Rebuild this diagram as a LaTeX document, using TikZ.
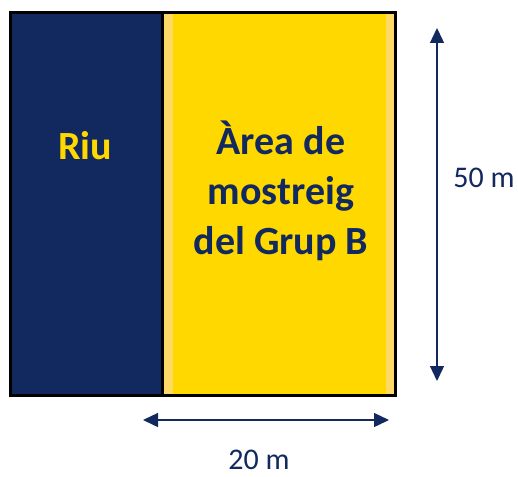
\documentclass[tikz,border=0pt]{standalone}
\usepackage{fontspec}
\setmainfont{Carlito}
\usetikzlibrary{arrows.meta}
\definecolor{navy}{HTML}{12295F}
\definecolor{gold}{HTML}{FFD800}
\definecolor{paleg}{HTML}{FFD966}
\tikzset{
  dim/.style={draw=navy, line width=1.4pt, {Triangle[length=15pt,width=14pt]}-{Triangle[length=15pt,width=14pt]}},
  lbl/.style={font=\fontsize{30}{36}\selectfont, text=navy, inner sep=0pt},
  big/.style={font=\fontsize{40}{50}\selectfont\bfseries, inner sep=0pt, align=center}
}
\begin{document}
\begin{tikzpicture}[x=1pt,y=-1pt]
\useasboundingbox (0,0) rectangle (518,476);
% fills
\fill[navy] (10,12) rectangle (162,396);
\fill[gold] (162,12) rectangle (396,396);
\fill[paleg] (164,12) rectangle (173,396);
\fill[paleg] (386,12) rectangle (395,396);
% outline
\draw[black, line width=3pt] (10.5,12.5) rectangle (395.5,395.5);
\draw[black, line width=3pt] (162,12.5) -- (162,395.5);
% texts
\node[big, text=gold] (riu) at (85,146) {Riu};
\node[big, text=navy] (area) at (281,191) {Àrea de\\mostreig\\del Grup B};
\node[lbl] (h) at (484,178) {50 m};
\node[lbl] (w) at (259,460) {20 m};
% dimension arrows
\coordinate (w1) at (143,420);
\coordinate (w2) at (389,420);
\coordinate (h1) at (437,28);
\coordinate (h2) at (437,381);
\draw[dim] (w1) -- (w2);
\draw[dim] (h1) -- (h2);
\end{tikzpicture}
\end{document}
